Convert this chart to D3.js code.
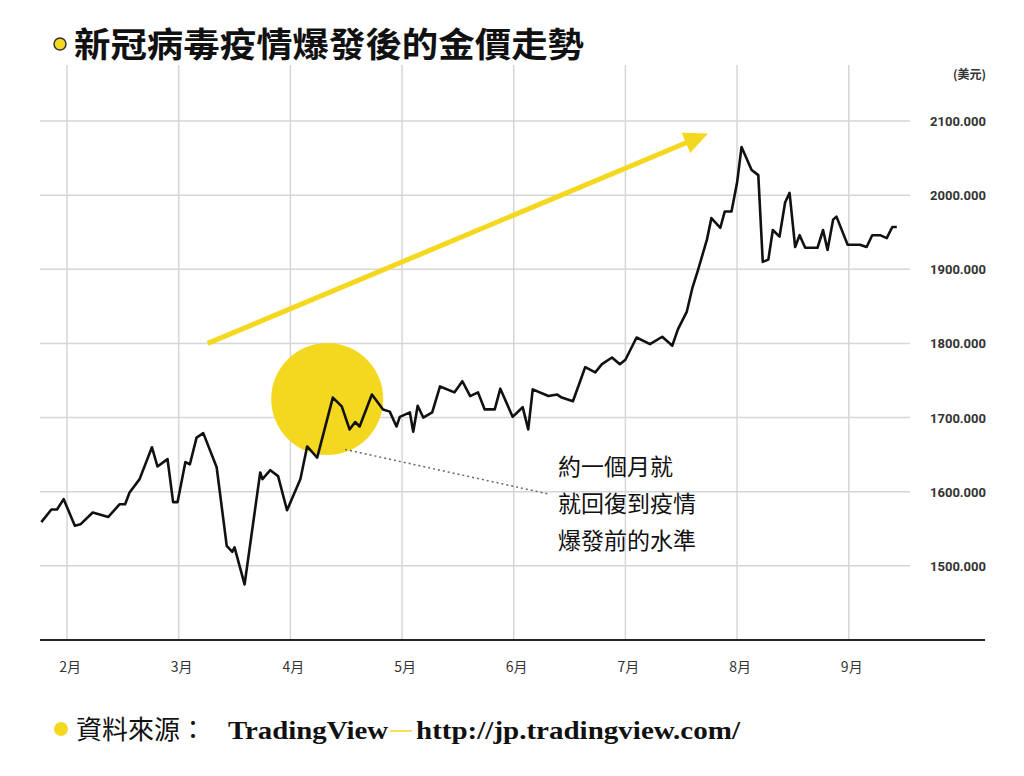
<!DOCTYPE html>
<html><head><meta charset="utf-8">
<script src="https://cdn.jsdelivr.net/npm/d3@7/dist/d3.min.js"></script>
<style>body{margin:0;background:#fff}svg{display:block}</style>
</head><body><svg id="chart" width="1024" height="776"></svg>
<script>
// month position (2 = start of Feb) and gold price (USD)
const monthPos = [1.77,1.86,1.91,1.97,2.07,2.12,2.23,2.37,2.47,2.52,2.56,2.65,2.76,2.81,2.90,2.95,2.99,3.06,3.10,3.16,3.22,3.34,3.43,3.48,3.50,3.59,3.73,3.75,3.82,3.89,3.97,4.09,4.15,4.24,4.38,4.46,4.53,4.58,4.62,4.73,4.83,4.89,4.95,4.98,5.07,5.10,5.14,5.19,5.27,5.34,5.47,5.54,5.61,5.68,5.74,5.83,5.88,5.99,6.08,6.13,6.17,6.31,6.39,6.43,6.53,6.59,6.64,6.73,6.79,6.88,6.95,7.00,7.10,7.22,7.33,7.42,7.47,7.55,7.60,7.65,7.73,7.77,7.85,7.89,7.95,8.00,8.04,8.13,8.19,8.23,8.28,8.32,8.38,8.43,8.47,8.52,8.56,8.61,8.72,8.77,8.81,8.86,8.89,8.99,9.10,9.16,9.21,9.28,9.34,9.39,9.43,9.50];
const price = [1559,1576,1576,1590,1554,1556,1572,1566,1583,1583,1599,1617,1660,1634,1644,1586,1586,1640,1637,1673,1679,1633,1527,1519,1525,1475,1626,1617,1629,1621,1575,1617,1661,1646,1727,1715,1684,1694,1688,1731,1711,1708,1688,1701,1707,1681,1716,1700,1707,1742,1734,1749,1729,1734,1711,1711,1739,1701,1714,1684,1738,1729,1731,1727,1722,1747,1768,1761,1772,1781,1772,1778,1808,1799,1809,1797,1819,1843,1875,1899,1940,1969,1956,1978,1978,2017,2065,2034,2027,1910,1913,1953,1944,1990,2003,1930,1946,1929,1929,1953,1926,1967,1971,1933,1933,1930,1946,1946,1942,1957,1957];
const months = [2,3,4,5,6,7,8,9];
const monthLabels = ['2月','3月','4月','5月','6月','7月','8月','9月'];
const yTicks = [1500,1600,1700,1800,1900,2000,2100];
const noteLines = ['約一個月就','就回復到疫情','爆發前的水準'];

const svg = d3.select('#chart');
const x = d3.scaleLinear().domain([1.758, 10.22]).range([40, 985]);
const y = d3.scaleLinear().domain([1400, 2100]).range([640, 121]);
const cjk = '"Noto Sans CJK TC","Noto Sans CJK SC",sans-serif';
const yellow = '#f4d81f';

// grid
svg.append('g').selectAll('line').data(months).join('line')
  .attr('x1', d => x(d)).attr('x2', d => x(d)).attr('y1', 65).attr('y2', 640)
  .attr('stroke', '#d6d6d6').attr('stroke-width', 1.5);
svg.append('g').selectAll('line').data(yTicks).join('line')
  .attr('x1', 40).attr('x2', 910).attr('y1', d => y(d)).attr('y2', d => y(d))
  .attr('stroke', '#d6d6d6').attr('stroke-width', 1.5);
svg.append('line').attr('x1', 40).attr('x2', 985).attr('y1', 640).attr('y2', 640)
  .attr('stroke', '#222').attr('stroke-width', 2);

// y labels
svg.append('g').selectAll('text').data(yTicks).join('text')
  .attr('x', 986).attr('y', d => y(d) + 5).attr('text-anchor', 'end')
  .attr('font-family', 'Roboto,sans-serif').attr('font-size', 13).attr('font-weight', 'bold')
  .attr('fill', '#333').text(d => d3.format('.3f')(d));
svg.append('text').attr('x', 986).attr('y', 79).attr('text-anchor', 'end')
  .attr('font-family', cjk).attr('font-size', 12).attr('font-weight', 'bold').attr('fill', '#333').text('(美元)');

// x labels
svg.append('g').selectAll('text').data(months).join('text')
  .attr('x', (d, i) => x(d) + 3).attr('y', 672).attr('text-anchor', 'middle')
  .attr('font-family', cjk).attr('font-size', 14).attr('fill', '#333')
  .text((d, i) => monthLabels[i]);

// annotations
svg.append('circle').attr('cx', x(4.33)).attr('cy', y(1725)).attr('r', 56).attr('fill', yellow);
const ax1 = x(3.26), ay1 = y(1800), ax2 = x(7.74), ay2 = y(2083);
const ang = Math.atan2(ay2 - ay1, ax2 - ax1);
svg.append('line').attr('x1', ax1).attr('y1', ay1)
  .attr('x2', ax2 - 14 * Math.cos(ang)).attr('y2', ay2 - 14 * Math.sin(ang))
  .attr('stroke', yellow).attr('stroke-width', 5);
svg.append('path')
  .attr('d', `M0,0 L-24,-11 L-24,11 Z`)
  .attr('transform', `translate(${ax2},${ay2}) rotate(${ang * 180 / Math.PI})`)
  .attr('fill', yellow);
svg.append('line').attr('x1', x(4.49)).attr('y1', y(1657)).attr('x2', x(6.31)).attr('y2', y(1597))
  .attr('stroke', '#666').attr('stroke-width', 1.5).attr('stroke-dasharray', '2,3');
svg.append('g').selectAll('text').data(noteLines).join('text')
  .attr('x', 558).attr('y', (d, i) => 475 + i * 37)
  .attr('font-family', cjk).attr('font-size', 23).attr('fill', '#111').text(d => d);

// price line
const pts = monthPos.map((m, i) => [m, price[i]]);
svg.append('path').datum(pts)
  .attr('d', d3.line().x(d => x(d[0])).y(d => y(d[1])))
  .attr('fill', 'none').attr('stroke', '#111').attr('stroke-width', 2.6).attr('stroke-linejoin', 'round');

// title
svg.append('circle').attr('cx', 60).attr('cy', 44).attr('r', 6).attr('fill', yellow)
  .attr('stroke', '#333').attr('stroke-width', 1.5);
svg.append('text').attr('x', 74).attr('y', 57).attr('font-family', cjk).attr('font-size', 34)
  .attr('font-weight', 'bold').attr('fill', '#111')
  .attr('textLength', 510).attr('lengthAdjust', 'spacingAndGlyphs').text('新冠病毒疫情爆發後的金價走勢');

// footer
svg.append('circle').attr('cx', 61).attr('cy', 729).attr('r', 7).attr('fill', yellow);
svg.append('text').attr('x', 76).attr('y', 739).attr('font-size', 26).attr('fill', '#111')
  .attr('font-family', cjk).text('資料來源：');
svg.append('text').attr('x', 228).attr('y', 739).attr('font-size', 25).attr('fill', '#111')
  .attr('font-family', '"Liberation Serif",serif').attr('font-weight', 'bold')
  .attr('textLength', 160).attr('lengthAdjust', 'spacingAndGlyphs').text('TradingView');
svg.append('line').attr('x1', 390).attr('x2', 412).attr('y1', 731).attr('y2', 731)
  .attr('stroke', yellow).attr('stroke-width', 1.5);
svg.append('text').attr('x', 416).attr('y', 739).attr('font-size', 25).attr('fill', '#111')
  .attr('font-family', '"Liberation Serif",serif').attr('font-weight', 'bold')
  .attr('textLength', 324).attr('lengthAdjust', 'spacingAndGlyphs').text('http://jp.tradingview.com/');
</script></body></html>
